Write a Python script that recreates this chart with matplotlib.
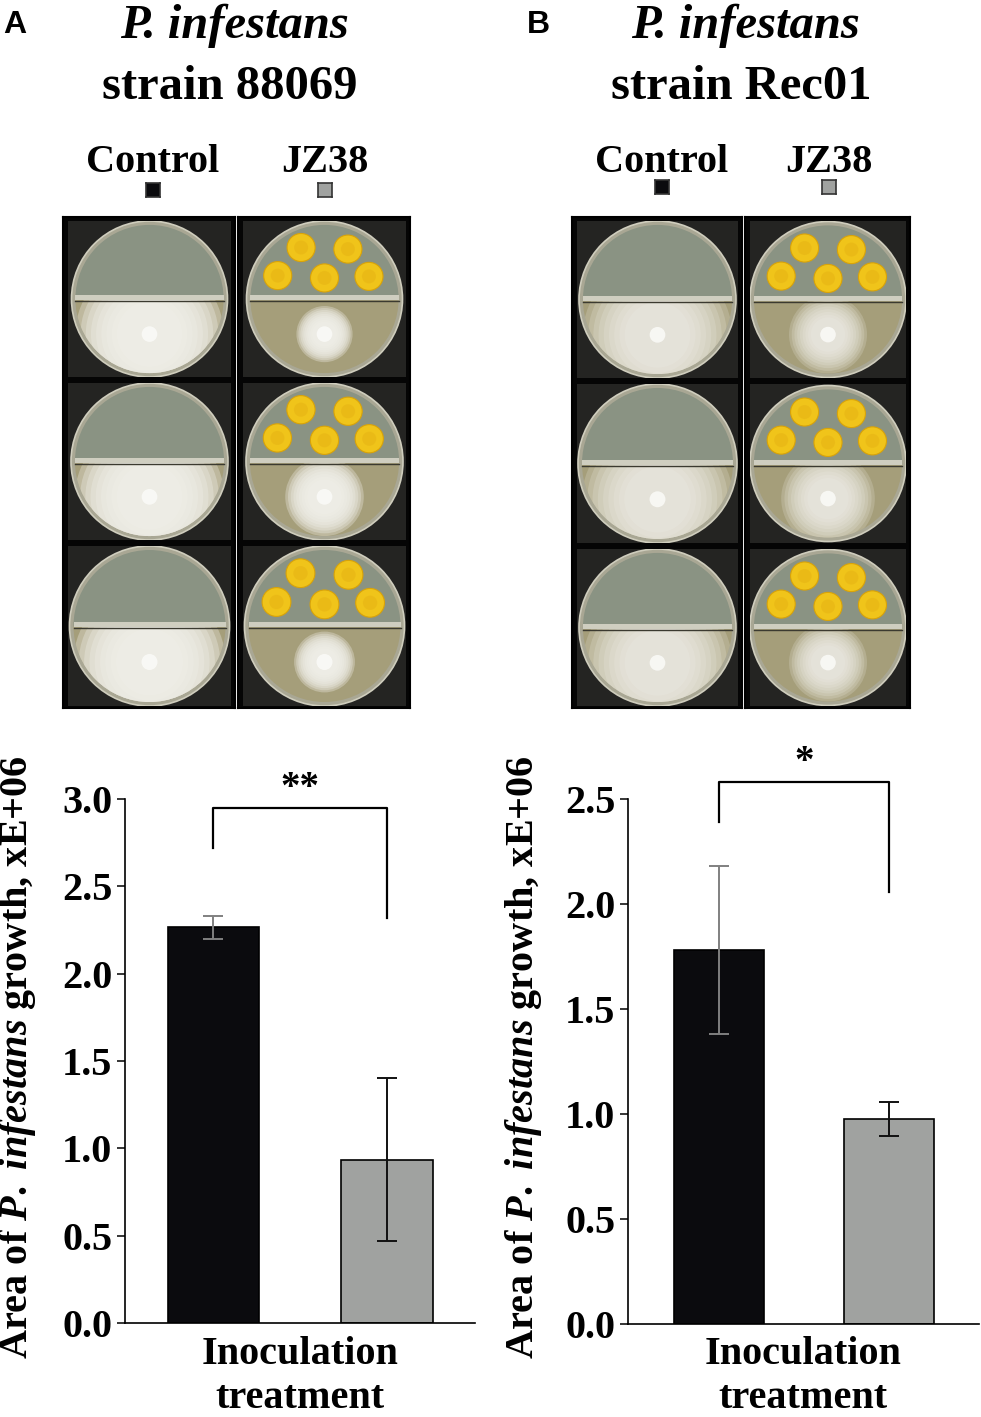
import matplotlib
matplotlib.use("Agg")
import matplotlib.pyplot as plt
from matplotlib.patches import Circle, Wedge, Rectangle
import numpy as np

plt.rcParams['font.family'] = 'Liberation Serif'
plt.rcParams['mathtext.fontset'] = 'custom'
plt.rcParams['mathtext.rm'] = 'Liberation Serif:bold'
plt.rcParams['mathtext.it'] = 'Liberation Serif:italic:bold'
plt.rcParams['mathtext.bf'] = 'Liberation Serif:bold'

# data (area in units of 1E+06)
treatments = ['Control', 'JZ38']
strains = ['88069', 'Rec01']
panel_letters = ['A', 'B']
growth_88069 = [2.265, 0.934]
err_88069 = [0.065, 0.467]
growth_rec01 = [1.78, 0.975]
err_rec01 = [0.40, 0.082]
signif = ['**', '*']
yticks_88069 = [0.0, 0.5, 1.0, 1.5, 2.0, 2.5, 3.0]
yticks_rec01 = [0.0, 0.5, 1.0, 1.5, 2.0, 2.5]
# bracket: left leg end, top, right leg end, star height
bracket_88069 = [2.72, 2.95, 2.32, 3.06]
bracket_rec01 = [2.39, 2.583, 2.056, 2.676]

bar_colors = ['#0b0b0e', '#a0a2a0']
err_colors = ['#808080', '#111111']

W, H = 981, 1417
fig = plt.figure(figsize=(W / 100, H / 100), dpi=100)


def px_rect(x0, y0, x1, y1):
    # pixel box (top-left origin) -> figure fraction
    return [x0 / W, 1 - y1 / H, (x1 - x0) / W, (y1 - y0) / H]


def ftext(x, y, s, **kw):
    fig.text(x / W, 1 - y / H, s, **kw)


def draw_plate(ax, w, h, treated, myc_r, diffuse):
    ax.set_xlim(-w / 2, w / 2)
    ax.set_ylim(-h / 2, h / 2)
    ax.set_facecolor('#242422')
    ax.set_xticks([])
    ax.set_yticks([])
    for s in ax.spines.values():
        s.set_visible(False)
    R = min(w, h) / 2
    ax.add_patch(Circle((0, 0), R, fc='#a9a794', ec='#cfcdbd', lw=1.2))
    ri = R * 0.95
    top = Wedge((0, 0), ri, 0, 180, fc='#8a9383', ec='none')
    bot = Wedge((0, 0), ri, 180, 360, fc='#a59e7a', ec='none')
    ax.add_patch(top)
    ax.add_patch(bot)
    # mycelium: stacked translucent discs give a soft edge
    cy = -0.45 * R
    n = 9
    alpha = 0.2 if diffuse else 0.33
    for k in range(n):
        r = myc_r * R * (1 - 0.07 * k)
        c = Circle((0, cy), r, fc='#f1f0ea', ec='none', alpha=alpha)
        ax.add_patch(c)
        c.set_clip_path(bot)
    ax.add_patch(Circle((0, cy), 0.1 * R, fc='#fbfbf8', ec='none', alpha=0.85))
    # divider
    ax.add_patch(Rectangle((-ri, -1), 2 * ri, 5, fc='#cfcec0', ec='none'))
    ax.plot([-ri, ri], [-2, -2], color='#3b3a30', lw=1)
    if treated:
        spots = [(-0.30, 0.66), (0.30, 0.64), (-0.60, 0.30), (0.0, 0.27), (0.57, 0.29)]
        for sx, sy in spots:
            ax.add_patch(Circle((sx * R, sy * R), 0.18 * R, fc='#f0c41a', ec='#d9a308', lw=0.8))
            ax.add_patch(Circle((sx * R, sy * R), 0.09 * R, fc='#e5b214', ec='none', alpha=0.5))


panels = [
    dict(x_title=234, x_ctrl=153, x_jz=325, sq_y=190, letter_x=3,
         cols=[(63, 235), (238, 410)], rows=[(217, 379), (379, 542), (542, 708)],
         myc=[[0.95, 0.95, 0.95], [0.36, 0.5, 0.38]], diffuse=False,
         axrect=(125, 799, 475, 1323), xlim=(-0.51, 1.507), ylim=3.0,
         vals=growth_88069, errs=err_88069, ticks=yticks_88069, br=bracket_88069,
         ylab_x=18, xlab_x=300),
    dict(x_title=745, x_ctrl=662, x_jz=829, sq_y=187, letter_x=527,
         cols=[(572, 742), (745, 910)], rows=[(217, 380), (380, 545), (545, 708)],
         myc=[[0.95, 0.95, 0.95], [0.5, 0.6, 0.5]], diffuse=True,
         axrect=(628, 799, 979, 1324), xlim=(-0.537, 1.533), ylim=2.5,
         vals=growth_rec01, errs=err_rec01, ticks=yticks_rec01, br=bracket_rec01,
         ylab_x=524, xlab_x=803),
]

for i, p in enumerate(panels):
    # header
    ftext(p['letter_x'], 33, panel_letters[i], family='Liberation Sans',
          fontweight='bold', fontsize=23, va='baseline', ha='left')
    ftext(p['x_title'], 38, 'P. infestans', fontsize=35, fontweight='bold',
          fontstyle='italic', ha='center', va='baseline')
    ftext(p['x_title'] - 4, 99, 'strain ' + strains[i], fontsize=35,
          fontweight='bold', ha='center', va='baseline')
    for t, xc, col in zip(treatments, [p['x_ctrl'], p['x_jz']], bar_colors):
        ftext(xc, 172, t, fontsize=29, fontweight='bold', ha='center', va='baseline')
        sq = fig.add_axes(px_rect(xc - 7, p['sq_y'] - 7, xc + 7, p['sq_y'] + 7))
        sq.set_facecolor(col)
        sq.set_xticks([])
        sq.set_yticks([])
        for s in sq.spines.values():
            s.set_color('#333333')
            s.set_linewidth(1.2)

    # plate photos
    for j, (cx0, cx1) in enumerate(p['cols']):
        frame = fig.add_axes(px_rect(cx0, p['rows'][0][0], cx1, p['rows'][-1][1]))
        frame.set_facecolor('#050505')
        frame.set_xticks([])
        frame.set_yticks([])
        for s in frame.spines.values():
            s.set_linewidth(1.5)
        for k, (ry0, ry1) in enumerate(p['rows']):
            x0, x1 = cx0 + 5, cx1 - 4
            y0, y1 = ry0 + 4, ry1 - 2
            cell = fig.add_axes(px_rect(x0, y0, x1, y1))
            draw_plate(cell, x1 - x0, y1 - y0, j == 1, p['myc'][j][k], p['diffuse'])

    # bar chart
    ax = fig.add_axes(px_rect(*p['axrect']))
    x = np.arange(len(treatments))
    ax.bar(x, p['vals'], width=0.53, color=bar_colors, edgecolor='black', linewidth=1.2)
    for xi, v, e, c in zip(x, p['vals'], p['errs'], err_colors):
        ax.errorbar(xi, v, yerr=e, fmt='none', ecolor=c, capsize=7,
                    elinewidth=1.4, capthick=1.4)
    ax.set_xlim(*p['xlim'])
    ax.set_ylim(0, p['ylim'])
    ax.set_yticks(p['ticks'])
    ax.set_yticklabels([f'{t:.1f}' for t in p['ticks']], fontsize=29, fontweight='bold')
    ax.set_xticks([])
    ax.tick_params(axis='y', direction='out', length=6, width=1.1, pad=3)
    for s in ['top', 'right']:
        ax.spines[s].set_visible(False)
    for s in ['left', 'bottom']:
        ax.spines[s].set_linewidth(1.2)
    bl, bt, brr, star_y = p['br']
    ax.plot([0, 0, 1, 1], [bl, bt, bt, brr], color='black', lw=1.6, clip_on=False)
    ax.text(0.5, star_y, signif[i], fontsize=28, fontweight='bold', ha='center',
            va='center', clip_on=False)

    ftext(p['ylab_x'], 1057, r'Area of $P.\ infestans$ growth, xE+06', fontsize=29,
          fontweight='bold', rotation=90, ha='center', va='center')
    ftext(p['xlab_x'], 1364, 'Inoculation', fontsize=29, fontweight='bold',
          ha='center', va='baseline')
    ftext(p['xlab_x'], 1408, 'treatment', fontsize=29, fontweight='bold',
          ha='center', va='baseline')

fig.savefig('out.png', dpi=100)
